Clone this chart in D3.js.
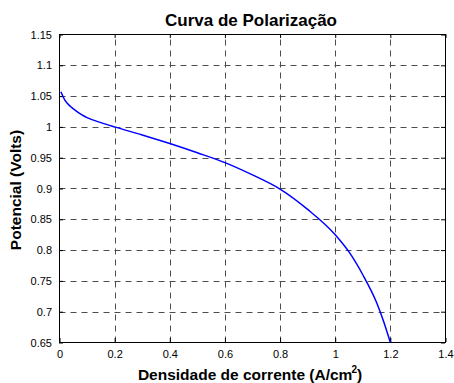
<!DOCTYPE html>
<html>
<head>
<meta charset="utf-8">
<script src="https://cdn.jsdelivr.net/npm/d3@7"></script>
<style>
  body { margin: 0; background: #fff; }
  svg { display: block; font-family: "Liberation Sans", Arial, sans-serif; }
</style>
</head>
<body>
<svg id="chart" width="454" height="383"></svg>
<script>
// dados
const densidade = [0.005, 0.02, 0.04, 0.06, 0.08, 0.1, 0.15, 0.2, 0.3, 0.4, 0.5, 0.6, 0.7, 0.8, 0.9, 1.0, 1.05, 1.1, 1.15, 1.175, 1.2];
const potencial = [1.057, 1.043, 1.033, 1.026, 1.020, 1.015, 1.007, 1.0, 0.987, 0.973, 0.958, 0.942, 0.922, 0.899, 0.866, 0.825, 0.797, 0.76, 0.715, 0.685, 0.65];
const xTicks = [0, 0.2, 0.4, 0.6, 0.8, 1, 1.2, 1.4];
const yTicks = [0.65, 0.7, 0.75, 0.8, 0.85, 0.9, 0.95, 1, 1.05, 1.1, 1.15];

const pLeft = 59.5, pRight = 445.5, pTop = 34.5, pBottom = 342.5;

const svg = d3.select("#chart");

const x = d3.scaleLinear().domain([0, 1.4]).range([pLeft, pRight]);
const y = d3.scaleLinear().domain([0.65, 1.15]).range([pBottom, pTop]);

// grid
svg.append("g")
  .selectAll("line")
  .data(xTicks.slice(1, -1))
  .enter()
  .append("line")
  .attr("x1", d => Math.round(x(d)) + 0.5)
  .attr("x2", d => Math.round(x(d)) + 0.5)
  .attr("y1", pBottom)
  .attr("y2", pTop)
  .attr("stroke", "#4d4d4d")
  .attr("stroke-dasharray", "6,5");

svg.append("g")
  .selectAll("line")
  .data(yTicks.slice(1, -1))
  .enter()
  .append("line")
  .attr("x1", pLeft)
  .attr("x2", pRight)
  .attr("y1", d => Math.round(y(d)) + 0.5)
  .attr("y2", d => Math.round(y(d)) + 0.5)
  .attr("stroke", "#4d4d4d")
  .attr("stroke-dasharray", "6,5");

// axes (ticks inward, on all sides)
const fmt = d => String(d);
svg.append("g")
  .attr("transform", "translate(0," + (pBottom - 0.5) + ")")
  .call(d3.axisBottom(x).tickValues(xTicks).tickFormat(fmt).tickSizeInner(-4).tickSizeOuter(0).tickPadding(8))
  .call(g => g.select(".domain").remove());
svg.append("g")
  .attr("transform", "translate(0," + (pTop - 0.5) + ")")
  .call(d3.axisTop(x).tickValues(xTicks).tickFormat("").tickSizeInner(-4).tickSizeOuter(0))
  .call(g => g.select(".domain").remove());
svg.append("g")
  .attr("transform", "translate(" + (pLeft - 0.5) + ",0)")
  .call(d3.axisLeft(y).tickValues(yTicks).tickFormat(fmt).tickSizeInner(-4).tickSizeOuter(0).tickPadding(7))
  .call(g => g.select(".domain").remove());
svg.append("g")
  .attr("transform", "translate(" + (pRight - 0.5) + ",0)")
  .call(d3.axisRight(y).tickValues(yTicks).tickFormat("").tickSizeInner(-4).tickSizeOuter(0))
  .call(g => g.select(".domain").remove());

svg.selectAll(".tick text")
  .attr("font-family", "Liberation Sans, Arial, sans-serif")
  .attr("font-size", 11)
  .attr("fill", "#000");
svg.selectAll(".tick line").attr("stroke", "#000");

// frame
svg.append("rect")
  .attr("x", pLeft)
  .attr("y", pTop)
  .attr("width", pRight - pLeft)
  .attr("height", pBottom - pTop)
  .attr("fill", "none")
  .attr("stroke", "#000");

// curva
const line = d3.line()
  .x((d, i) => x(densidade[i]))
  .y(d => y(d))
  .curve(d3.curveMonotoneX);

svg.append("path")
  .datum(potencial)
  .attr("d", line)
  .attr("fill", "none")
  .attr("stroke", "#0000ff")
  .attr("stroke-width", 1.5);

// textos
svg.append("text")
  .attr("x", 251)
  .attr("y", 26)
  .attr("text-anchor", "middle")
  .attr("font-size", 17)
  .attr("font-weight", "bold")
  .text("Curva de Polarização");

const xl = svg.append("text")
  .attr("x", 250)
  .attr("y", 380)
  .attr("text-anchor", "middle")
  .attr("font-size", 15.5)
  .attr("font-weight", "bold");
xl.append("tspan").text("Densidade de corrente (A/cm");
xl.append("tspan").attr("dx", -1).attr("dy", -7).attr("font-size", 10).text("2");
xl.append("tspan").attr("dy", 7).text(")");

svg.append("text")
  .attr("transform", "translate(21,190) rotate(-90)")
  .attr("text-anchor", "middle")
  .attr("font-size", 15.5)
  .attr("font-weight", "bold")
  .text("Potencial (Volts)");
</script>
</body>
</html>
